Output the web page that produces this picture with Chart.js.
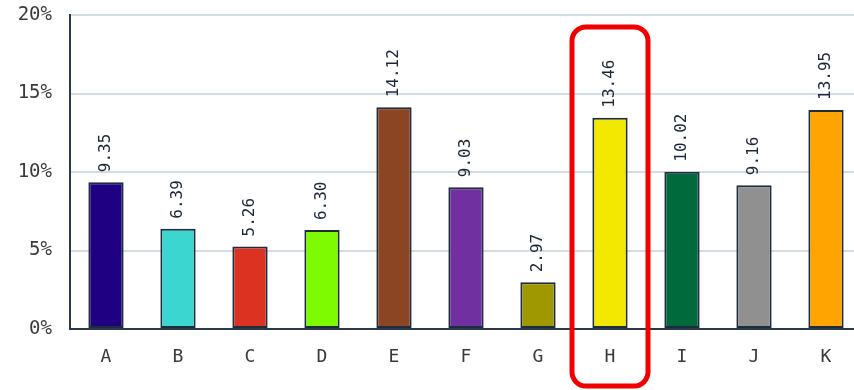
<!DOCTYPE html>
<html>
<head>
<meta charset="utf-8">
<script src="https://cdn.jsdelivr.net/npm/chart.js@4"></script>
<style>
  html, body { margin: 0; padding: 0; background: #fff; overflow: hidden; }
  #wrap { position: absolute; left: 0; top: 0; width: 862px; height: 390px; }
</style>
</head>
<body>
<div id="wrap"><canvas id="chart"></canvas></div>
<script>
const categories = ["A", "B", "C", "D", "E", "F", "G", "H", "I", "J", "K"];
const values = [9.35, 6.39, 5.26, 6.30, 14.12, 9.03, 2.97, 13.46, 10.02, 9.16, 13.95];
const barColors = ["#1f0082", "#3cd6d0", "#dc3222", "#7ffb00", "#8b4522", "#7030a0",
                   "#a09800", "#f2e800", "#006a3c", "#909090", "#ffa400"];
const yTicks = [0, 5, 10, 15, 20];
const highlightIndex = 7;

const mono = "'DejaVu Sans Mono', 'Liberation Mono', monospace";

// value labels above bars, rotated
const valueLabels = {
  id: "valueLabels",
  afterDatasetsDraw(chart) {
    const ctx = chart.ctx;
    const meta = chart.getDatasetMeta(0);
    ctx.save();
    ctx.font = "16px " + mono;
    ctx.fillStyle = "#1b2636";
    ctx.textAlign = "left";
    ctx.textBaseline = "middle";
    meta.data.forEach((bar, i) => {
      ctx.save();
      ctx.translate(bar.x, bar.y - 10);
      ctx.rotate(-Math.PI / 2);
      ctx.fillText(values[i].toFixed(2), 0, 0);
      ctx.restore();
    });
    ctx.restore();
  }
};

// red rounded box around the highlighted category
const highlightBox = {
  id: "highlightBox",
  afterDraw(chart) {
    const ctx = chart.ctx;
    const x = chart.scales.x.getPixelForValue(highlightIndex);
    const left = x - 38, right = x + 38;
    const top = chart.chartArea.top + 12, bottom = chart.height - 4;
    ctx.save();
    ctx.strokeStyle = "#f00000";
    ctx.lineWidth = 5;
    ctx.beginPath();
    ctx.roundRect(left, top, right - left, bottom - top, 14);
    ctx.stroke();
    ctx.restore();
  }
};

new Chart(document.getElementById("chart"), {
  type: "bar",
  data: {
    labels: categories,
    datasets: [{
      data: values,
      backgroundColor: barColors,
      borderColor: "#1e2d3e",
      borderWidth: 2,
      borderSkipped: false,
      barPercentage: 0.49,
      categoryPercentage: 1.0
    }]
  },
  options: {
    responsive: true,
    maintainAspectRatio: false,
    animation: false,
    layout: { padding: { top: 15, right: 0, bottom: 0, left: 0 } },
    plugins: { legend: { display: false }, tooltip: { enabled: false } },
    scales: {
      x: {
        afterFit: (s) => { s.height = 61; s.paddingLeft = 0; s.paddingRight = 0; },
        grid: { display: false, drawTicks: false },
        border: { display: true, color: "#2a3a4b", width: 2 },
        ticks: { color: "#3a3a3a", font: { family: mono, size: 18 }, padding: 18 }
      },
      y: {
        min: 0,
        max: 20,
        afterFit: (s) => { s.width = 70; s.paddingTop = 0; s.paddingBottom = 0; },
        afterBuildTicks: (s) => { s.ticks = yTicks.map(v => ({ value: v })); },
        grid: { color: "#d4dce4", lineWidth: 2, drawTicks: false },
        border: { display: true, color: "#2a3a4b", width: 2 },
        ticks: {
          color: "#3a3a3a",
          font: { family: mono, size: 19 },
          padding: 18,
          callback: (v) => v + "%"
        }
      }
    }
  },
  plugins: [valueLabels, highlightBox]
});
</script>
</body>
</html>
